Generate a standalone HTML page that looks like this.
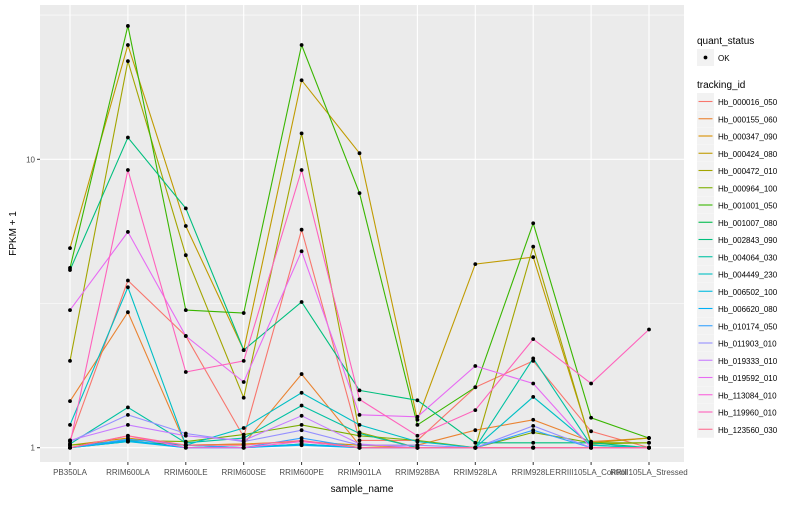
<!DOCTYPE html>
<html><head><meta charset="utf-8"><style>
body{margin:0;background:#fff;font-family:"Liberation Sans",sans-serif}
svg text{font-family:"Liberation Sans",sans-serif}
</style></head><body>
<svg id="chart" width="800" height="500" xmlns="http://www.w3.org/2000/svg">
<rect x="0" y="0" width="800" height="500" fill="#fff"/>
<g id="plot"></g>
</svg>
<script>
const categories=["PB350LA","RRIM600LA","RRIM600LE","RRIM600SE","RRIM600PE","RRIM901LA","RRIM928BA","RRIM928LA","RRIM928LE","RRIII105LA_Control","RRIII105LA_Stressed"];
const seriesNames=["Hb_000016_050","Hb_000155_060","Hb_000347_090","Hb_000424_080","Hb_000472_010","Hb_000964_100","Hb_001001_050","Hb_001007_080","Hb_002843_090","Hb_004064_030","Hb_004449_230","Hb_006502_100","Hb_006620_080","Hb_010174_050","Hb_011903_010","Hb_019333_010","Hb_019592_010","Hb_113084_010","Hb_119960_010","Hb_123560_030"];
const colors=["#F8766D","#EA8331","#D89000","#C09B00","#A3A500","#7CAE00","#39B600","#00BB4E","#00BF7D","#00C1A3","#00BFC4","#00BAE0","#00B0F6","#35A2FF","#9590FF","#C77CFF","#E76BF3","#FA62DB","#FF62BC","#FF6C91"];
const s0=[1.06,3.8,2.44,1.09,5.7,1.06,1.06,1.62,2.0,1.14,1.0];
const s1=[1.45,2.95,1.02,1.03,1.8,1.02,1.02,1.15,1.25,1.05,1.08];
const s2=[1.02,1.08,1.02,1.03,1.05,1.02,1.0,1.0,1.0,1.0,1.0];
const s3=[4.92,24.9,5.87,2.18,18.8,10.5,1.25,4.33,4.58,1.04,1.08];
const s4=[2.0,21.9,4.65,1.49,12.3,1.13,1.0,1.0,4.98,1.03,1.04];
const s5=[1.02,1.06,1.05,1.11,1.2,1.1,1.06,1.0,1.13,1.04,1.04];
const s6=[4.2,29.0,3.0,2.93,24.9,7.63,1.2,1.62,6.0,1.27,1.08];
const s7=[1.0,1.05,1.02,1.0,1.03,1.0,1.0,1.0,1.0,1.0,1.0];
const s8=[4.13,11.9,6.76,2.18,3.2,1.58,1.46,1.04,1.04,1.04,1.0];
const s9=[1.03,1.38,1.04,1.08,1.4,1.12,1.0,1.0,2.04,1.02,1.0];
const s10=[1.2,3.6,1.02,1.17,1.55,1.2,1.05,1.0,1.5,1.02,1.0];
const s11=[1.0,1.05,1.0,1.0,1.03,1.0,1.0,1.0,1.0,1.0,1.0];
const s12=[1.0,1.06,1.0,1.0,1.02,1.0,1.0,1.0,1.0,1.0,1.0];
const s13=[1.0,1.07,1.02,1.0,1.08,1.0,1.0,1.0,1.15,1.0,1.0];
const s14=[1.05,1.3,1.12,1.05,1.15,1.02,1.02,1.0,1.19,1.0,1.0];
const s15=[1.06,1.2,1.1,1.06,1.29,1.03,1.0,1.0,1.0,1.0,1.0];
const s16=[3.0,5.6,2.44,1.69,4.8,1.3,1.28,1.92,1.67,1.0,1.0];
const s17=[1.0,1.1,1.0,1.0,1.05,1.0,1.0,1.0,1.0,1.0,1.0];
const s18=[1.03,9.18,1.83,2.0,9.18,1.47,1.1,1.35,2.38,1.67,2.57];
const s19=[1.0,1.1,1.02,1.02,1.06,1.0,1.0,1.0,1.0,1.0,1.0];
const seriesValues=[s0,s1,s2,s3,s4,s5,s6,s7,s8,s9,s10,s11,s12,s13,s14,s15,s16,s17,s18,s19];
const yTicks=[1,10];
const yMinor=[Math.sqrt(10),Math.sqrt(1000)];

const NS="http://www.w3.org/2000/svg";
const P={l:40,r:684,t:5,b:462};
function xs(i){return 70+i*57.9;}
function ys(v){return 447.7-Math.log10(v)*288.4;}
const g=document.getElementById('plot');
function el(tag,attrs,parent){const e=document.createElementNS(NS,tag);for(const k in attrs)e.setAttribute(k,attrs[k]);(parent||g).appendChild(e);return e;}

const panel=el('rect',{x:P.l,y:P.t,width:P.r-P.l,height:P.b-P.t,fill:'#EBEBEB'});


yMinor.forEach(v=>{const l=el('line',{x1:P.l,x2:P.r,y1:ys(v),y2:ys(v),stroke:'#fff','stroke-width':0.6});

});
yTicks.forEach(v=>{const l=el('line',{x1:P.l,x2:P.r,y1:ys(v),y2:ys(v),stroke:'#fff','stroke-width':1.1});


const tk=el('line',{x1:P.l-3,x2:P.l,y1:ys(v),y2:ys(v),stroke:'#333','stroke-width':1});


const t=el('text',{x:P.l-5,y:ys(v)+3,'text-anchor':'end','font-size':8,fill:'#4D4D4D'});t.textContent=v;

});
categories.forEach((c,i)=>{const l=el('line',{x1:xs(i),x2:xs(i),y1:P.t,y2:P.b,stroke:'#fff','stroke-width':1.1});


const tk=el('line',{x1:xs(i),x2:xs(i),y1:P.b,y2:P.b+3,stroke:'#333','stroke-width':1});


const t=el('text',{x:xs(i),y:P.b+13,'text-anchor':'middle','font-size':8,fill:'#4D4D4D'});t.textContent=c;

});

seriesValues.forEach((vals,si)=>{
 const pts=vals.map((v,i)=>xs(i).toFixed(1)+','+ys(v).toFixed(1)).join(' ');
 const pl=el('polyline',{points:pts,fill:'none',stroke:colors[si],'stroke-width':1.1});
 
 
});
seriesValues.forEach((vals,si)=>{
 vals.forEach((v,i)=>{const c=el('circle',{cx:xs(i),cy:ys(v),r:1.9,fill:'#000'});
 
 });
});

const xt=el('text',{x:(P.l+P.r)/2,y:492,'text-anchor':'middle','font-size':10,fill:'#000'});xt.textContent='sample_name';


const yt=el('text',{x:0,y:0,'text-anchor':'middle','font-size':10,fill:'#000',transform:'translate(16,'+((P.t+P.b)/2)+') rotate(-90)'});yt.textContent='FPKM + 1';



const lg=el('g',{});


const qt=el('text',{x:697,y:44,'font-size':10,fill:'#000'},lg);qt.textContent='quant_status';


const qk=el('rect',{x:697,y:49,width:17,height:17,fill:'#F2F2F2'},lg);


el('circle',{cx:705.5,cy:57.5,r:1.9,fill:'#000'},lg);
const qo=el('text',{x:718,y:61,'font-size':8,fill:'#000'},lg);qo.textContent='OK';


const tt=el('text',{x:697,y:88,'font-size':10,fill:'#000'},lg);tt.textContent='tracking_id';


seriesNames.forEach((n,i)=>{const y=93+i*17.25;
 const k=el('rect',{x:697,y:y,width:17,height:17,fill:'#F2F2F2'},lg);
 
 
 el('line',{x1:698.5,x2:712.5,y1:y+8.5,y2:y+8.5,stroke:colors[i],'stroke-width':1.1},lg);
 const t=el('text',{x:718,y:y+12,'font-size':8,fill:'#000'},lg);t.textContent=n;
 
 
});
</script>
</body></html>
